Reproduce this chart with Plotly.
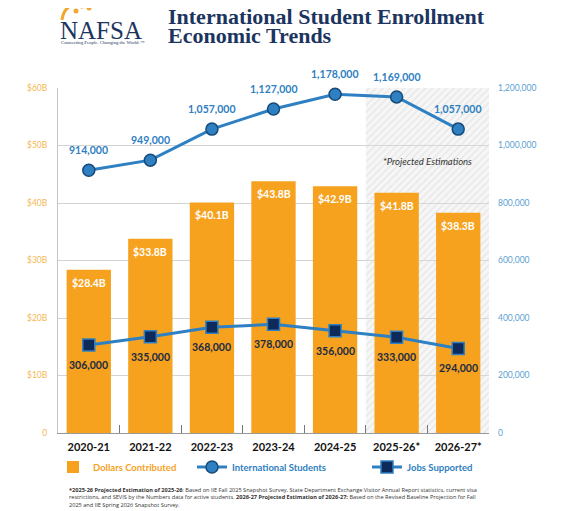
import plotly.graph_objects as go

# ---------------- data ----------------
years = ["2020-21", "2021-22", "2022-23", "2023-24", "2024-25", "2025-26*", "2026-27*"]
dollars_b = [28.4, 33.8, 40.1, 43.8, 42.9, 41.8, 38.3]
students = [914000, 949000, 1057000, 1127000, 1178000, 1169000, 1057000]
jobs = [306000, 335000, 368000, 378000, 356000, 333000, 294000]
projected_years = ["2025-26*", "2026-27*"]

left_ticks = [0, 10, 20, 30, 40, 50, 60]
left_tick_text = ["0", "$10B", "$20B", "$30B", "$40B", "$50B", "$60B"]
right_ticks = [0, 200000, 400000, 600000, 800000, 1000000, 1200000]
Y_MAX = 60
Y2_MAX = 1200000

ORANGE = "#F6A21E"
BLUE = "#2E80C2"
NAVY = "#0E2A5A"
TITLE_NAVY = "#1C3560"
FONT = "Lato"

# page body margin offset (browser default 8px)
OFF = 8
FIG_W, FIG_H = 570 - OFF, 511 - OFF
# plot area in screen pixels
L, R, T, B = 58, 489, 88, 433
W, H = R - L, B - T


def px(x):
    return (x - L) / W


def py(y):
    return (B - y) / H


fig = go.Figure()

# projected-estimations hatched zone
fig.add_trace(go.Bar(
    x=projected_years, y=[Y_MAX] * len(projected_years), yaxis="y",
    width=1, showlegend=False, hoverinfo="skip",
    marker=dict(color="rgba(225,225,225,0.3)", line=dict(width=0),
                pattern=dict(shape="/", fgcolor="#d4d4d4", size=5, solidity=0.25)),
))

# dollars bars
fig.add_trace(go.Bar(
    x=years, y=dollars_b, yaxis="y",
    name="<b><span style='color:%s'>Dollars Contributed</span></b>" % ORANGE,
    marker=dict(color=ORANGE, line=dict(width=0)),
    legend="legend",
))

# jobs supported
fig.add_trace(go.Scatter(
    x=years, y=jobs, yaxis="y2", mode="lines+markers",
    name="<b><span style='color:%s'>Jobs Supported</span></b>" % BLUE,
    line=dict(color=BLUE, width=3),
    marker=dict(symbol="square", size=12, color=NAVY, line=dict(color=BLUE, width=1.5)),
    cliponaxis=False, legend="legend3",
))

# international students
fig.add_trace(go.Scatter(
    x=years, y=students, yaxis="y2", mode="lines+markers",
    name="<b><span style='color:%s'>International Students</span></b>" % BLUE,
    line=dict(color=BLUE, width=3),
    marker=dict(symbol="circle", size=12, color=BLUE, line=dict(color="#174A78", width=1.5)),
    cliponaxis=False, legend="legend2",
))

# value labels
for x, v in zip(years, dollars_b):
    fig.add_annotation(x=x, y=v, xref="x", yref="y", text="<b>$%.1fB</b>" % v,
                       showarrow=False, yanchor="middle", yshift=-13,
                       font=dict(color="white", size=10.5, family=FONT))
for x, v in zip(years, jobs):
    fig.add_annotation(x=x, y=v, xref="x", yref="y2", text="<b>{:,}</b>".format(v),
                       showarrow=False, yanchor="middle", yshift=-20,
                       font=dict(color="#1B2B45", size=10.5, family=FONT))
for x, v in zip(years, students):
    fig.add_annotation(x=x, y=v, xref="x", yref="y2", text="<b>{:,}</b>".format(v),
                       showarrow=False, yanchor="middle", yshift=20,
                       font=dict(color=BLUE, size=10.5, family=FONT))

legend_common = dict(orientation="h", yanchor="middle", y=py(467), xanchor="left",
                     font=dict(size=9.5, family=FONT), bgcolor="rgba(0,0,0,0)",
                     itemwidth=30)

fig.update_layout(
    width=FIG_W, height=FIG_H,
    margin=dict(l=L - OFF, r=FIG_W - (R - OFF), t=T - OFF, b=FIG_H - (B - OFF), autoexpand=False),
    paper_bgcolor="white", plot_bgcolor="white",
    barmode="overlay", bargap=0.28,
    font=dict(family=FONT, size=9),
    xaxis=dict(
        type="category", categoryorder="array", categoryarray=years,
        showline=True, linecolor="#9a9a9a", linewidth=1,
        ticks="inside", tickson="boundaries", ticklen=8, tickcolor="#777",
        tickfont=dict(color="#111", size=11, family=FONT, weight="bold"),
        showgrid=False, automargin=False, ticklabelstandoff=4,
    ),
    yaxis=dict(
        range=[0, Y_MAX], tickvals=left_ticks, ticktext=left_tick_text,
        showgrid=True, gridcolor="#d3d3d3", gridwidth=1,
        showline=True, linecolor="#c4c4c4",
        tickfont=dict(color="#F5B850", size=8.5, family=FONT), ticks="",
        zeroline=False, automargin=False, ticklabelstandoff=8,
    ),
    yaxis2=dict(
        range=[0, Y2_MAX], tickvals=right_ticks, tickformat=",",
        overlaying="y", side="right", showgrid=False, zeroline=False,
        tickfont=dict(color="#5C9FD3", size=8.5, family=FONT), ticks="",
        automargin=False, ticklabelstandoff=8,
    ),
    legend=dict(legend_common, x=px(53)),
    legend2=dict(legend_common, x=px(192)),
    legend3=dict(legend_common, x=px(367)),
    showlegend=True,
)

# title (two lines, tight spacing)
fig.add_annotation(
    text="<b>International Student Enrollment</b>",
    xref="paper", yref="paper", x=px(166), y=py(31),
    xanchor="left", yanchor="bottom", showarrow=False,
    font=dict(family="Liberation Serif", size=22, color=TITLE_NAVY),
)
fig.add_annotation(
    text="<b>Economic Trends</b>",
    xref="paper", yref="paper", x=px(166), y=py(50),
    xanchor="left", yanchor="bottom", showarrow=False,
    font=dict(family="Liberation Serif", size=22, color=TITLE_NAVY),
)
# logo text
fig.add_annotation(
    text="NAFSA", xref="paper", yref="paper",
    x=px(58), y=py(46), xanchor="left", yanchor="bottom",
    showarrow=False, font=dict(family="Liberation Serif", size=25, color=TITLE_NAVY),
)
fig.add_annotation(
    text="Connecting People. Changing the World.\u2122", xref="paper", yref="paper",
    x=px(59), y=py(42.5), xanchor="left", yanchor="middle",
    showarrow=False, font=dict(family="Liberation Serif", size=4.8, color=TITLE_NAVY),
)
# logo emblem (gold figures)
fig.add_shape(
    type="path", xref="paper", yref="paper",
    path="M %f %f Q %f %f %f %f" % (px(62), py(20), px(64), py(1), px(90), py(2)),
    line=dict(color="#F0A830", width=3),
)
for cx, cy in [(82, 6), (89, 8), (76, 11)]:
    fig.add_shape(type="circle", xref="paper", yref="paper",
                  x0=px(cx - 2.5), x1=px(cx + 2.5), y0=py(cy + 2.5), y1=py(cy - 2.5),
                  fillcolor="#F0A830", line=dict(width=0))

# projected note
fig.add_annotation(
    text="<i>*Projected Estimations</i>", xref="x", yref="y",
    x=5.5, y=47.3, showarrow=False,
    font=dict(family=FONT, size=9.5, color="#333"),
)

# footnote
fig.add_annotation(
    text=("<b>*2025-26 Projected Estimation of 2025-26</b>: Based on IIE Fall 2025 Snapshot Survey, State Department Exchange Visitor Annual Report statistics, current visa<br>"
          "restrictions, and SEVIS by the Numbers data for active students. <b>2026-27 Projected Estimation of 2026-27:</b> Based on the Revised Baseline Projection for Fall<br>"
          "2025 and IIE Spring 2026 Snapshot Survey."),
    xref="paper", yref="paper", x=px(67), y=py(483.5),
    xanchor="left", yanchor="top", align="left", showarrow=False,
    font=dict(family="Open Sans", size=5.6, color="#333"),
)

fig.write_html("out.html")
